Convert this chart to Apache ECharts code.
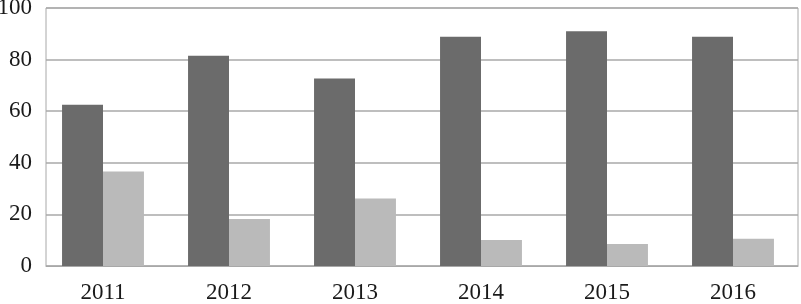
<!DOCTYPE html>
<html>
<head>
<meta charset="utf-8">
<script src="https://cdn.jsdelivr.net/npm/echarts@6/dist/echarts.min.js"></script>
<style>html,body{margin:0;padding:0;background:#fff}#c{width:801px;height:304px}</style>
</head>
<body>
<div id="c"></div>
<script>
const categories = ['2011', '2012', '2013', '2014', '2015', '2016'];
const seriesA = [62.5, 81.5, 72.7, 88.9, 91.0, 88.9];
const seriesB = [36.6, 18.2, 26.2, 10.1, 8.5, 10.6];
const yTicks = { min: 0, max: 100, interval: 20 };

const labelFont = { fontFamily: 'Liberation Serif', fontSize: 23, color: '#1a1a1a' };
const chart = echarts.init(document.getElementById('c'), null, { renderer: 'canvas' });
chart.setOption({
  animation: false,
  grid: [
    { left: 40, right: 5, top: 8, bottom: 38, outerBoundsMode: 'none', containLabel: false },
    { left: 46, right: 3, top: 8, bottom: 38, outerBoundsMode: 'none', containLabel: false, show: true, borderColor: '#a8a8a8', borderWidth: 1, backgroundColor: 'transparent' }
  ],
  xAxis: [
    {
      gridIndex: 0, type: 'category', data: categories,
      axisLine: { show: false }, axisTick: { show: false },
      axisLabel: Object.assign({ margin: 15 }, labelFont)
    },
    {
      gridIndex: 1, type: 'category', data: categories,
      axisLine: { show: true, lineStyle: { color: '#a8a8a8', width: 1 } },
      axisTick: { show: false }, axisLabel: { show: false }
    }
  ],
  yAxis: [
    {
      gridIndex: 0, type: 'value', min: yTicks.min, max: yTicks.max, interval: yTicks.interval,
      axisLine: { show: false }, axisTick: { show: false }, splitLine: { show: false }, axisLabel: { show: false }
    },
    {
      gridIndex: 1, type: 'value', min: yTicks.min, max: yTicks.max, interval: yTicks.interval,
      axisLine: { show: false }, axisTick: { show: false },
      splitLine: { lineStyle: { color: '#a8a8a8', width: 1.5 } },
      axisLabel: Object.assign({ margin: 14 }, labelFont)
    }
  ],
  series: [
    { type: 'bar', xAxisIndex: 0, yAxisIndex: 0, data: seriesA, itemStyle: { color: '#6b6b6b' }, barGap: '0%', barCategoryGap: '35%', z: 3 },
    { type: 'bar', xAxisIndex: 0, yAxisIndex: 0, data: seriesB, itemStyle: { color: '#bababa' }, z: 3 }
  ]
});
</script>
</body>
</html>
